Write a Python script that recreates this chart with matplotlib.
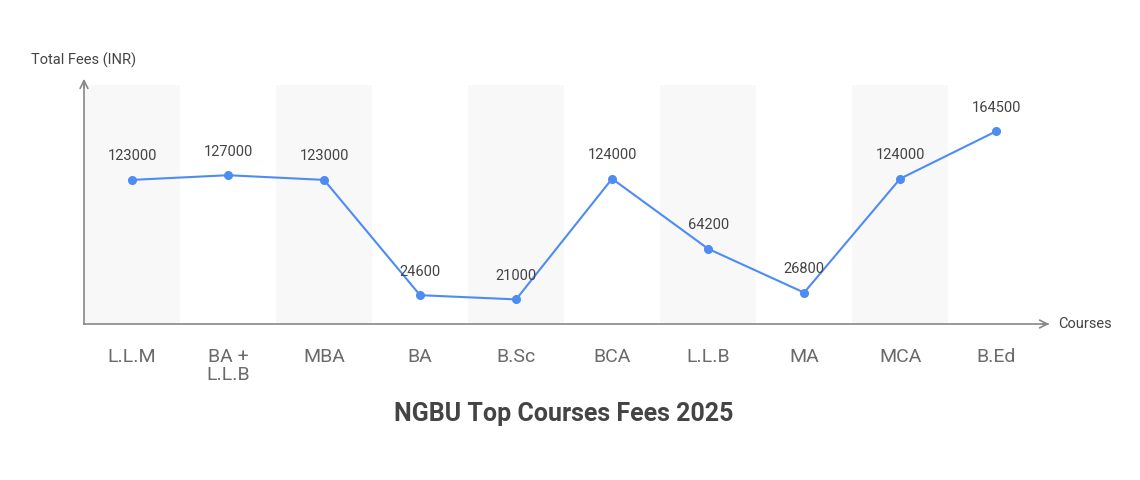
import matplotlib
matplotlib.use("Agg")
import matplotlib.pyplot as plt

plt.rcParams['font.family'] = ['Roboto', 'DejaVu Sans']

courses = ["L.L.M", "BA +\nL.L.B", "MBA", "BA", "B.Sc", "BCA", "L.L.B", "MA", "MCA", "B.Ed"]
fees = [123000, 127000, 123000, 24600, 21000, 124000, 64200, 26800, 124000, 164500]

fig = plt.figure(figsize=(11.4, 4.8), dpi=100)
ax = fig.add_axes([84/1140, 1-324/480, 964/1140, 239/480])
ax.set_xlim(-0.5, 9.54)
ax.set_ylim(0, 204000)

for i in range(0, len(courses), 2):
    ax.axvspan(i-0.5, i+0.5, color='#f8f8f8', zorder=0, lw=0)

x = list(range(len(courses)))
ax.plot(x, fees, color='#4d8cf5', lw=1.5, marker='o', ms=5.5, zorder=3)
for xi, v in zip(x, fees):
    ax.annotate(str(v), (xi, v), xytext=(0, 12), textcoords='offset points',
                ha='center', va='bottom', fontsize=10.5, color='#444444')

for s in ['top', 'right']:
    ax.spines[s].set_visible(False)
for s in ['left', 'bottom']:
    ax.spines[s].set_color('#888888')
    ax.spines[s].set_linewidth(1.2)
ax.set_yticks([])
ax.set_xticks(x)
ax.set_xticklabels(courses, fontsize=14, color='#6a6a6a', linespacing=1.0)
ax.tick_params(axis='x', length=0, pad=17)
ax.tick_params(axis='y', length=0)

ax.annotate('', xy=(1052/1140, 1-324/480), xytext=(1040/1140, 1-324/480), xycoords='figure fraction',
            arrowprops=dict(arrowstyle='->', color='#888888', lw=1.2, mutation_scale=14))
ax.annotate('', xy=(84/1140, 1-76/480), xytext=(84/1140, 1-90/480), xycoords='figure fraction',
            arrowprops=dict(arrowstyle='->', color='#888888', lw=1.2, mutation_scale=14))
ax.spines['left'].set_bounds(0, 204000)

fig.text(1058/1140, 1-324/480, "Courses", fontsize=10.5, color='#444444', va='center', ha='left')
fig.text(84/1140, 1-60/480, "Total Fees (INR)", fontsize=10.5, color='#444444', va='center', ha='center')
fig.text(564/1140, 1-414/480, "NGBU Top Courses Fees 2025", fontsize=18, fontweight='bold',
         color='#444444', ha='center', va='center')

fig.savefig("out.png", dpi=100)
